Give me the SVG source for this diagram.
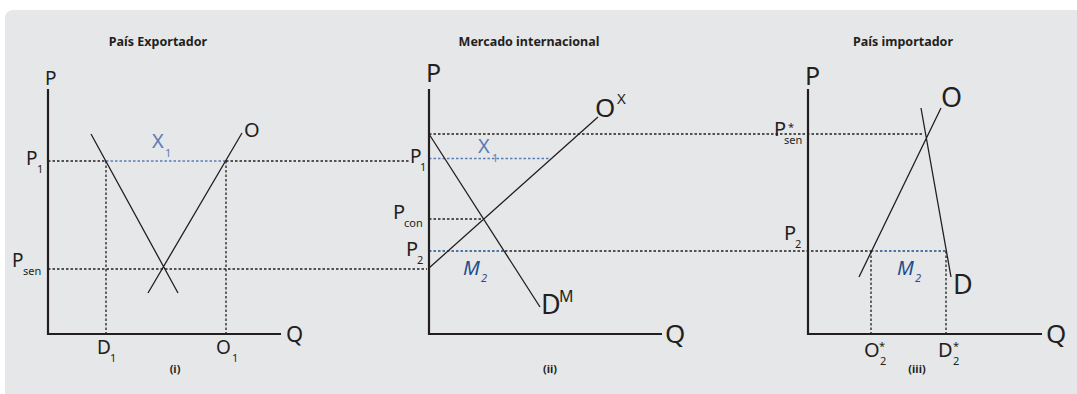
<svg xmlns="http://www.w3.org/2000/svg" width="1077" height="394" viewBox="0 0 1077 394">
<style>
text{font-family:"Noto Sans","Open Sans",sans-serif;fill:#231f20}
.t{font-size:12.5px;font-weight:bold;text-anchor:middle}
.n{font-size:11px;font-weight:bold;text-anchor:middle}
.ax{fill:none;stroke:#231f20;stroke-width:2.2}
.ln{fill:none;stroke:#231f20;stroke-width:1.3}
.d{fill:none;stroke:#231f20;stroke-width:1.3;stroke-dasharray:2.5 2}
.db{fill:none;stroke:#5b7db5;stroke-width:1.3;stroke-dasharray:2.5 2}
.dm{fill:none;stroke:#1f4e8c;stroke-width:1.3;stroke-dasharray:2.5 2}
.s{font-size:11px}
.bx{fill:#5b7db5}
.bm{fill:#1f4e8c;font-style:italic}
</style>
<rect x="5" y="10" width="1080" height="400" rx="8" fill="#e6e7e8"/>
<g id="connectors">
<path class="d" d="M48,161H106M226,161H410M48,269H427M106,161V334M226,161V334"/>
<path class="db" d="M106,161H226"/>
<path class="d" d="M429,134H924M429,219H484M505,251H871M871,251V334M946,251V334"/>
<path class="db" d="M429,158.5H550"/>
<path class="dm" d="M429,251H505M871,251H946"/>
</g>
<g id="panel-i">
<text class="t" x="158" y="46">País Exportador</text>
<path class="ax" d="M48,89V334H281"/>
<path class="ln" d="M91,134L178,293M148,293L242,133"/>
<text x="45" y="85" font-size="19">P</text>
<text x="286" y="342" font-size="22">Q</text>
<text x="244" y="137" font-size="20">O</text>
<text class="bx" x="152" y="148" font-size="20">X</text><text class="bx s" x="165" y="157">1</text>
<text x="26" y="165" font-size="19">P</text><text class="s" x="37" y="173">1</text>
<text x="12" y="267" font-size="19">P</text><text class="s" x="23" y="275">sen</text>
<text x="97" y="354" font-size="19">D</text><text class="s" x="110" y="362">1</text>
<text x="216" y="354" font-size="19">O</text><text class="s" x="232" y="362">1</text>
<text class="n" x="175" y="373">(i)</text>
</g>
<g id="panel-ii">
<text class="t" x="529" y="46">Mercado internacional</text>
<path class="ax" d="M429,89V334H662"/>
<path class="ln" d="M429,134L540,307M429,268L598,117"/>
<text x="426" y="82" font-size="25">P</text>
<text x="665" y="343" font-size="26">Q</text>
<text x="595" y="117" font-size="26">O</text><text x="617" y="104" font-size="15">X</text>
<text class="bx" x="478" y="153" font-size="20">X</text><text class="bx s" x="492" y="162">1</text>
<text x="410" y="163" font-size="19">P</text><text class="s" x="420" y="171">1</text>
<text x="393" y="219" font-size="20">P</text><text class="s" x="404" y="227">con</text>
<text x="406" y="256" font-size="20">P</text><text class="s" x="417" y="264">2</text>
<text class="bm" x="463" y="275" font-size="20">M</text><text class="bm s" x="481" y="282" font-style="normal">2</text>
<text x="541" y="314" font-size="27">D</text><text x="559" y="302" font-size="16">M</text>
<text class="n" x="550" y="373">(ii)</text>
</g>
<g id="panel-iii">
<text class="t" x="903" y="46">País importador</text>
<path class="ax" d="M808,89V334H1042"/>
<path class="ln" d="M859,277L941,108M921,108L951,277"/>
<text x="805" y="85" font-size="25">P</text>
<text x="1046" y="343" font-size="26">Q</text>
<text x="941" y="107" font-size="27">O</text>
<text x="953" y="294" font-size="27">D</text>
<text x="774" y="136" font-size="20">P</text><text x="788" y="131" font-size="11">*</text><text class="s" x="784" y="144">sen</text>
<text x="784" y="240" font-size="20">P</text><text class="s" x="795" y="248">2</text>
<text class="bm" x="897" y="275" font-size="20">M</text><text class="bm s" x="915" y="282" font-style="normal">2</text>
<text x="864" y="357" font-size="20">O</text><text x="879" y="350" font-size="11">*</text><text class="s" x="880" y="365">2</text>
<text x="938" y="357" font-size="20">D</text><text x="953" y="350" font-size="11">*</text><text class="s" x="953" y="365">2</text>
<text class="n" x="917" y="373">(iii)</text>
</g>
</svg>
